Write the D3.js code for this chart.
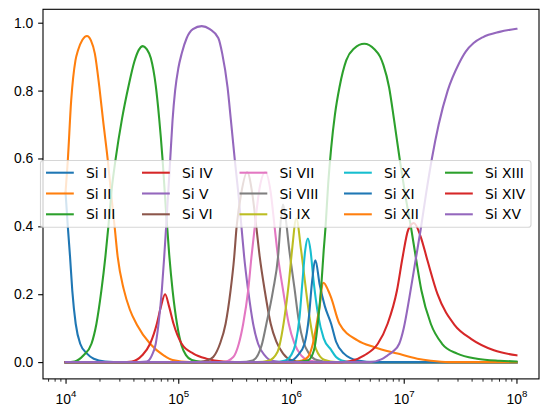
<!DOCTYPE html>
<html>
<head>
<meta charset="utf-8">
<script src="https://d3js.org/d3.v7.min.js"></script>
<style>
body { margin: 0; background: #ffffff; }
svg { display: block; font-family: "DejaVu Sans", sans-serif; }
</style>
</head>
<body>
<script>
// Ion names, in plotting order
var ions = ["Si I", "Si II", "Si III", "Si IV", "Si V", "Si VI", "Si VII", "Si VIII",
            "Si IX", "Si X", "Si XI", "Si XII", "Si XIII", "Si XIV", "Si XV"];

// matplotlib default colour cycle
var colors = ["#1f77b4", "#ff7f0e", "#2ca02c", "#d62728", "#9467bd", "#8c564b", "#e377c2",
              "#7f7f7f", "#bcbd22", "#17becf", "#1f77b4", "#ff7f0e", "#2ca02c", "#d62728", "#9467bd"];

// Ion fractions, each point is [log10 T, fraction]
var siI = [[4.0,0.50],[4.02,0.40],[4.04,0.31],[4.06,0.21],[4.09,0.113],[4.13,0.054],[4.19,0.025],
           [4.25,0.01],[4.35,0.002],[4.5,0],[8.0,0]];
var siII = [[4.0,0.50],[4.02,0.594],[4.05,0.771],[4.088,0.889],[4.11,0.918],[4.15,0.95],[4.19,0.961],
            [4.225,0.948],[4.26,0.909],[4.30,0.81],[4.333,0.712],[4.375,0.594],[4.40,0.51],[4.436,0.397],
            [4.463,0.309],[4.516,0.215],[4.57,0.155],[4.633,0.11],[4.75,0.054],[4.87,0.02],[4.95,0.006],
            [5.1,0],[8.0,0]];
var siIII = [[4.0,0],[4.08,0.002],[4.16,0.02],[4.23,0.054],[4.274,0.113],[4.318,0.211],[4.353,0.309],
             [4.38,0.40],[4.41,0.51],[4.445,0.60],[4.50,0.715],[4.56,0.815],[4.61,0.885],[4.65,0.92],
             [4.686,0.931],[4.72,0.922],[4.757,0.895],[4.80,0.815],[4.83,0.72],[4.86,0.60],[4.89,0.45],
             [4.92,0.315],[4.95,0.21],[4.99,0.11],[5.03,0.048],[5.07,0.02],[5.12,0.006],[5.2,0.001],[5.3,0],[8.0,0]];
var siIV = [[4.0,0],[4.5,0],[4.59,0.002],[4.68,0.02],[4.75,0.054],[4.81,0.113],[4.845,0.162],[4.883,0.20],
            [4.92,0.162],[4.958,0.113],[5.03,0.054],[5.134,0.025],[5.25,0.01],[5.4,0.002],[5.6,0],[8.0,0]];
var siV = [[4.0,0],[4.6,0],[4.72,0.002],[4.766,0.02],[4.80,0.054],[4.825,0.113],[4.854,0.211],[4.875,0.309],
           [4.892,0.397],[4.928,0.594],[4.949,0.712],[4.972,0.80],[5.0,0.865],[5.031,0.91],[5.075,0.955],
           [5.13,0.981],[5.208,0.99],[5.28,0.981],[5.355,0.955],[5.39,0.909],[5.437,0.81],[5.467,0.712],
           [5.502,0.594],[5.532,0.50],[5.561,0.397],[5.585,0.309],[5.62,0.211],[5.664,0.113],[5.708,0.054],
           [5.767,0.02],[5.83,0.004],[5.95,0],[8.0,0]];
var siVI = [[4.0,0],[5.15,0],[5.25,0.004],[5.31,0.015],[5.37,0.054],[5.42,0.113],[5.464,0.211],[5.496,0.309],
            [5.517,0.397],[5.56,0.50],[5.611,0.56],[5.655,0.50],[5.693,0.396],[5.723,0.309],[5.767,0.211],
            [5.82,0.113],[5.87,0.06],[5.93,0.025],[6.0,0.006],[6.1,0],[8.0,0]];
var siVII = [[4.0,0],[5.4,0],[5.488,0.015],[5.537,0.054],[5.576,0.113],[5.62,0.211],[5.649,0.309],[5.678,0.397],
             [5.72,0.51],[5.773,0.56],[5.82,0.5],[5.855,0.397],[5.885,0.309],[5.93,0.211],[5.98,0.113],
             [6.03,0.055],[6.09,0.02],[6.16,0.005],[6.3,0],[8.0,0]];
var siVIII = [[4.0,0],[5.55,0],[5.66,0.005],[5.74,0.05],[5.78,0.11],[5.84,0.21],[5.885,0.31],[5.91,0.42],
              [5.929,0.464],[5.95,0.43],[5.985,0.33],[6.03,0.22],[6.07,0.12],[6.11,0.06],[6.16,0.025],
              [6.23,0.006],[6.35,0],[8.0,0]];
var siIX = [[4.0,0],[5.7,0],[5.8,0.004],[5.88,0.03],[5.943,0.133],[5.98,0.231],[6.009,0.329],[6.047,0.423],
            [6.09,0.329],[6.126,0.231],[6.164,0.133],[6.22,0.04],[6.3,0.006],[6.4,0],[8.0,0]];
var siX = [[4.0,0],[5.85,0],[5.95,0.005],[6.0,0.02],[6.04,0.054],[6.076,0.133],[6.10,0.231],[6.126,0.329],
           [6.15,0.364],[6.173,0.329],[6.2,0.24],[6.24,0.14],[6.29,0.07],[6.356,0.036],[6.40,0.015],
           [6.45,0.005],[6.55,0],[8.0,0]];
var siXI = [[4.0,0],[5.9,0],[6.0,0.004],[6.06,0.02],[6.12,0.054],[6.159,0.133],[6.185,0.231],[6.217,0.30],
            [6.253,0.231],[6.30,0.165],[6.356,0.113],[6.40,0.06],[6.47,0.025],[6.59,0.005],[6.75,0],[8.0,0]];
var siXII = [[4.0,0],[6.0,0],[6.1,0.005],[6.15,0.015],[6.194,0.054],[6.238,0.133],[6.26,0.18],[6.27,0.211],
             [6.288,0.234],[6.33,0.211],[6.356,0.19],[6.43,0.113],[6.59,0.064],[6.74,0.044],[6.945,0.025],
             [7.12,0.01],[7.24,0.004],[7.4,0],[8.0,0]];
var siXIII = [[4.0,0],[6.0,0],[6.15,0.005],[6.203,0.034],[6.244,0.133],[6.27,0.231],[6.29,0.329],[6.306,0.396],
              [6.33,0.526],[6.356,0.63],[6.39,0.73],[6.43,0.81],[6.49,0.889],[6.56,0.924],[6.65,0.938],
              [6.74,0.922],[6.79,0.90],[6.82,0.875],[6.87,0.81],[6.915,0.712],[6.966,0.594],[7.015,0.49],
              [7.065,0.396],[7.107,0.309],[7.157,0.211],[7.24,0.113],[7.34,0.054],[7.475,0.025],[7.65,0.01],
              [7.85,0.004],[8.0,0.002]];
var siXIV = [[4.0,0],[6.45,0],[6.53,0.003],[6.65,0.02],[6.77,0.054],[6.857,0.113],[6.94,0.211],[6.99,0.309],
             [7.04,0.39],[7.09,0.41],[7.15,0.37],[7.21,0.30],[7.3,0.2],[7.45,0.11],[7.6,0.068],[7.8,0.035],
             [8.0,0.02]];
var siXV = [[4.0,0],[6.7,0],[6.8,0.008],[6.857,0.02],[6.9,0.03],[6.96,0.054],[7.0,0.10],[7.05,0.19],[7.1,0.29],
            [7.15,0.39],[7.2,0.50],[7.25,0.60],[7.31,0.70],[7.39,0.80],[7.49,0.88],[7.55,0.915],[7.62,0.94],
            [7.7,0.957],[7.85,0.973],[8.0,0.982]];

var series = [siI, siII, siIII, siIV, siV, siVI, siVII, siVIII, siIX, siX, siXI, siXII, siXIII, siXIV, siXV];

// Axis ticks
var yTicks = [0.0, 0.2, 0.4, 0.6, 0.8, 1.0];
var xExponents = [4, 5, 6, 7, 8];

//Width and height
var w = 547;
var h = 417;

// Plot box
var plotLeft = 43, plotRight = 539, plotTop = 9.3, plotBottom = 378.9;

var svg = d3.select("body")
	.append("svg")
	.attr("width", w)
	.attr("height", h);

var xScale = d3.scaleLog()
	.domain([Math.pow(10, 3.8), Math.pow(10, 8.2)])
	.range([plotLeft, plotRight]);

var yScale = d3.scaleLinear()
	.domain([-0.0495, 1.0395])
	.range([plotBottom, plotTop]);

var line = d3.line()
	.x(function(d) { return xScale(Math.pow(10, d[0])); })
	.y(function(d) { return yScale(d[1]); })
	.curve(d3.curveMonotoneX);

// Lines
svg.append("g").selectAll("path")
	.data(series)
	.enter()
	.append("path")
	.attr("d", line)
	.style("fill", "none")
	.style("stroke", function(d, i) { return colors[i]; })
	.style("stroke-width", 2.08)
	.style("stroke-linecap", "square")
	.style("stroke-linejoin", "round");

// Y axis
var yAxis = d3.axisLeft(yScale)
	.tickValues(yTicks)
	.tickSize(4.86)
	.tickPadding(4.86)
	.tickFormat(d3.format(".1f"));

var yg = svg.append("g")
	.attr("transform", "translate(" + plotLeft + ",0)")
	.call(yAxis);

// X axis, minor ticks first
var minors = [];
for (var e = 3; e <= 8; e++) {
	for (var m = 2; m <= 9; m++) {
		var v = m * Math.pow(10, e);
		if (v > xScale.domain()[0] && v < xScale.domain()[1]) minors.push(v);
	}
}

var xMinor = d3.axisBottom(xScale)
	.tickValues(minors)
	.tickSize(2.78)
	.tickFormat("");

var xg2 = svg.append("g")
	.attr("transform", "translate(0," + plotBottom + ")")
	.call(xMinor);
xg2.selectAll("line").style("stroke-width", 0.83);

var xAxis = d3.axisBottom(xScale)
	.tickValues(xExponents.map(function(p) { return Math.pow(10, p); }))
	.tickSize(4.86)
	.tickPadding(4.86)
	.tickFormat("");

var xg = svg.append("g")
	.attr("transform", "translate(0," + plotBottom + ")")
	.call(xAxis);

// superscript labels
xg.selectAll(".tick").each(function(d, i) {
	var t = d3.select(this).append("text")
		.attr("y", 25)
		.attr("fill", "#000")
		.style("font-size", "13.9px")
		.attr("text-anchor", "middle");
	t.append("tspan").text("10");
	t.append("tspan")
		.attr("dy", -7)
		.style("font-size", "9.7px")
		.text(xExponents[i]);
});

// Styling
svg.selectAll(".domain").remove();
yg.selectAll("text").style("font-size", "13.9px").attr("fill", "#000");
yg.selectAll("line").style("stroke-width", 1.1);
xg.selectAll("line").style("stroke-width", 1.1);

// Spines
svg.append("rect")
	.attr("x", plotLeft)
	.attr("y", plotTop)
	.attr("width", plotRight - plotLeft)
	.attr("height", plotBottom - plotTop)
	.style("fill", "none")
	.style("stroke", "#000")
	.style("stroke-width", 1.1);

//Create Legend
var legend = svg.append("g").attr("class", "legend");
var colX = [46, 142, 239.5, 344, 445];
var rowY = [172.7, 193.5, 214.3];

legend.append("rect")
	.attr("x", 40.5)
	.attr("y", 160.5)
	.attr("width", 490.5)
	.attr("height", 66.8)
	.attr("rx", 2.8)
	.style("fill", "#fff")
	.style("fill-opacity", 0.8)
	.style("stroke", "#cccccc")
	.style("stroke-opacity", 0.8)
	.style("stroke-width", 1.1);

var items = legend.selectAll("g.item")
	.data(ions)
	.enter()
	.append("g")
	.attr("class", "item")
	.attr("transform", function(d, i) {
		return "translate(" + colX[Math.floor(i / 3)] + "," + rowY[i % 3] + ")";
	});

items.append("line")
	.attr("x1", 0)
	.attr("x2", 27.8)
	.style("stroke", function(d, i) { return colors[i]; })
	.style("stroke-width", 2.08);

items.append("text")
	.attr("x", 40)
	.attr("y", 5)
	.style("font-size", "13.9px")
	.attr("fill", "#000")
	.text(function(d) { return d; });
</script>
</body>
</html>
